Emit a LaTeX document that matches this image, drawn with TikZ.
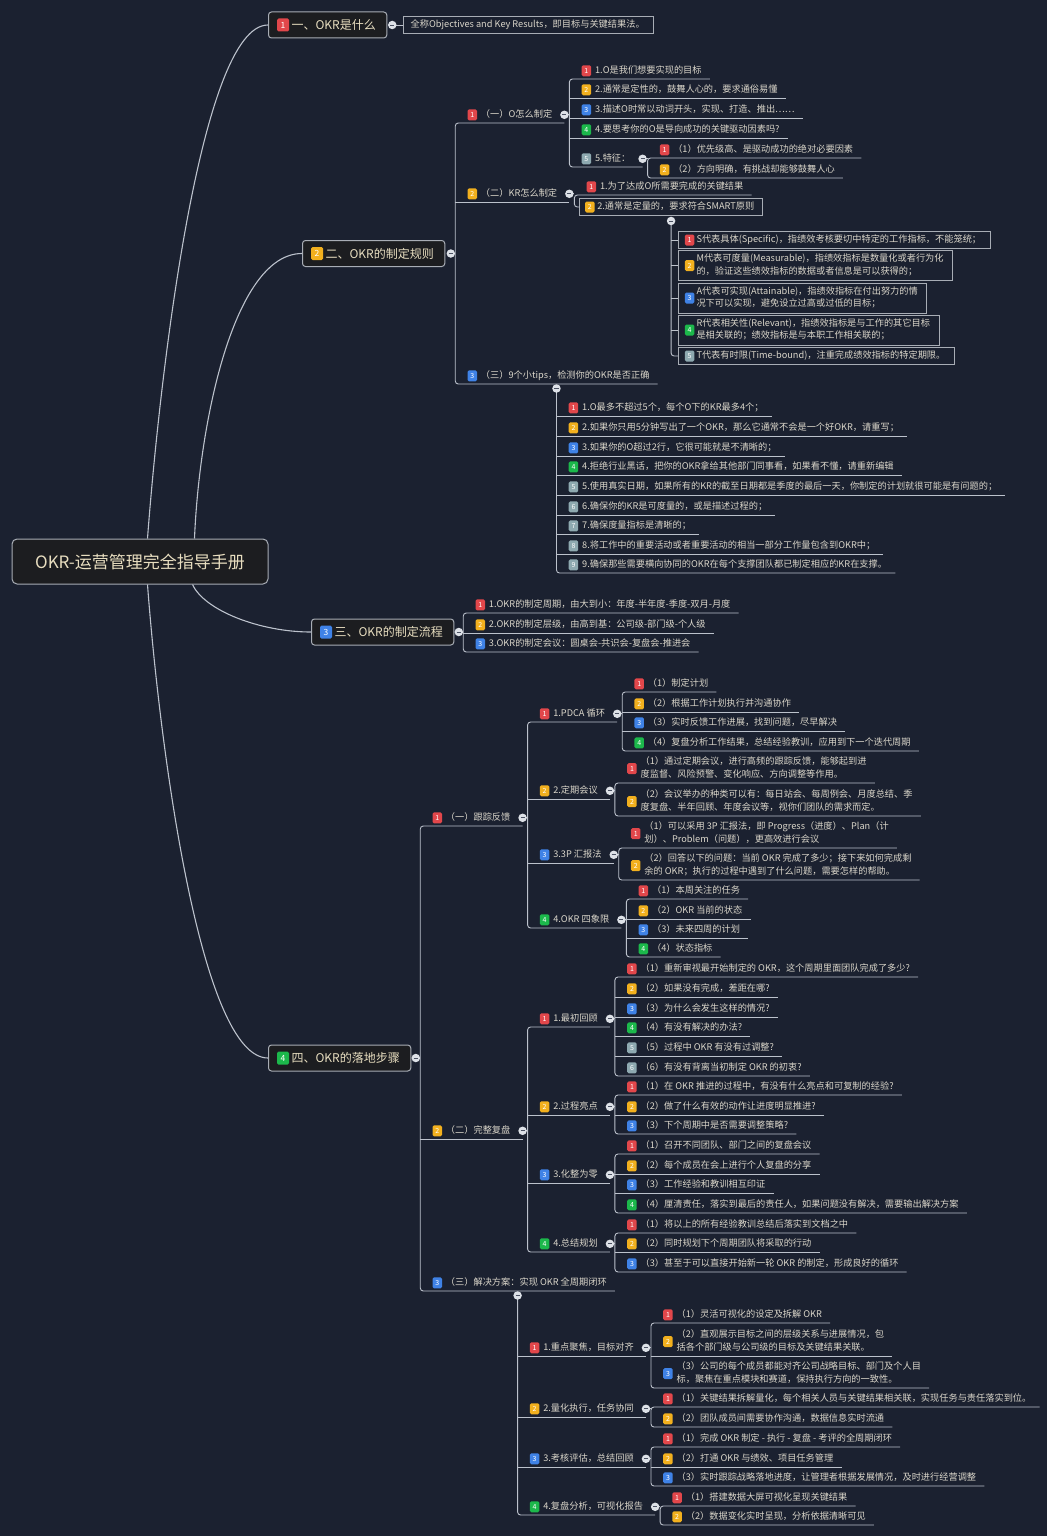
\documentclass[tikz,border=0pt]{standalone}
\usepackage{fontspec}
\newfontfamily\cjk{Noto Sans CJK SC}

\definecolor{bg}{HTML}{1B2130}
\definecolor{ln}{HTML}{BCC2CC}
\definecolor{txt}{HTML}{DAD6CA}
\definecolor{mtxt}{HTML}{E8DEC0}
\definecolor{boxfill}{HTML}{1C1D20}
\definecolor{boxdraw}{HTML}{A8ADB5}
\definecolor{cR}{HTML}{E2474B}
\definecolor{cO}{HTML}{F2B01E}
\definecolor{cB}{HTML}{3F82E6}
\definecolor{cG}{HTML}{1CB84B}
\definecolor{cS}{HTML}{8EA9B0}
\definecolor{btn}{HTML}{DDE1E7}
\definecolor{btnm}{HTML}{4A5162}

\tikzset{
  conn/.style={draw=ln, line width=0.9pt},
  curve/.style={draw=ln, line width=1.1pt},
  lf/.style={anchor=south west, inner xsep=0pt, inner ysep=3.5pt, text height=7pt, text depth=2pt,
    font=\cjk\fontsize{9.2}{12.5}\selectfont, text=txt},
  lf2/.style={anchor=south west, inner xsep=0pt, inner ysep=1.75pt,
    font=\cjk\fontsize{9.2}{12.5}\selectfont, text=txt},
  bx/.style={anchor=west, draw=boxdraw, fill=bg, line width=0.9pt, inner xsep=0pt, inner ysep=4pt,
    text height=7pt, text depth=2pt, font=\cjk\fontsize{9.2}{12.5}\selectfont, text=txt},
  bx2/.style={anchor=west, draw=boxdraw, fill=bg, line width=0.9pt, inner xsep=0pt, inner ysep=2.5pt,
    font=\cjk\fontsize{9.2}{12.5}\selectfont, text=txt},
  bdg/.style={rectangle, rounded corners=1.5pt, minimum width=9.5pt, minimum height=11pt, inner sep=0pt,
    text=white, font=\cjk\fontsize{7}{7}\selectfont},
  mbox/.style={anchor=west, rectangle, rounded corners=3pt, draw=boxdraw, fill=boxfill, line width=1pt,
    inner xsep=0pt, minimum height=26pt, font=\cjk\fontsize{12}{14}\selectfont, text=mtxt},
  mbdg/.style={bdg, minimum width=12pt, minimum height=13pt, font=\cjk\fontsize{8.5}{8.5}\selectfont},
  rootbox/.style={rectangle, rounded corners=5pt, draw=boxdraw, fill=boxfill, line width=1pt,
    minimum width=256pt, minimum height=45pt, font=\cjk\fontsize{17}{20}\selectfont, text=mtxt},
  cbtn/.style={circle, fill=btn, minimum size=8.5pt, inner sep=0pt,
    path picture={\draw[btnm, line width=0.9pt]
      ([xshift=2.2pt]path picture bounding box.west) -- ([xshift=-2.2pt]path picture bounding box.east);}},
}

% leaf item: name, position, badge colour, badge number, text
\newcommand\lfnode[5]{%
  \node[lf] (#1) at (#2) {\hspace*{25.5pt}#5\hspace*{8pt}};
  \node[bdg, fill=#3] (#1b) at ([xshift=17pt]#1.west) {#4};}
% two-line leaf item
\newcommand\lfii[6]{%
  \node[lf2] (#1) at (#2) {\hspace*{25.5pt}\begin{tabular}{@{}l@{}}#5\\#6\end{tabular}\hspace*{8pt}};
  \node[bdg, fill=#3] (#1b) at ([xshift=17pt]#1.west) {#4};}
% item with children to its right: circle at its east end, spine just after it
\newcommand\tpnode[5]{%
  \node[lf] (#1) at (#2) {\hspace*{25.5pt}#5\hspace*{12pt}};
  \node[bdg, fill=#3] (#1b) at ([xshift=17pt]#1.west) {#4};
  \coordinate (#1C) at (#1.east);
  \coordinate (#1S) at ([xshift=5pt]#1.east);}
% connectors
\newcommand\fan[2]{\draw[conn, rounded corners=3pt] (#1.south east) -- (#1.south west) -- (#2.south west) -- (#2.south east);}
\newcommand\undl[1]{\draw[conn] (#1.south west) -- (#1.south east);}
\newcommand\tie[2]{\draw[conn] (#1C) -- (#1C -| #2.south west);}

\begin{document}
\begin{tikzpicture}[x=1pt, y=-1pt]
\fill[bg] (0,0) rectangle (1047,1536);
\useasboundingbox (0,0) rectangle (1047,1536);

% ---------- root and main topics ----------
\node[rootbox] (root) at (140,561.5) {OKR-运营管理完全指导手册};

\node[mbox] (m1) at (268,25) {\hspace*{23pt}一、OKR是什么\hspace*{11pt}};
\node[mbdg, fill=cR] (m1b) at ([xshift=15pt]m1.west) {1};
\node[mbox] (m2) at (302,253.5) {\hspace*{23pt}二、OKR的制定规则\hspace*{11pt}};
\node[mbdg, fill=cO] (m2b) at ([xshift=15pt]m2.west) {2};
\node[mbox] (m3) at (311,632) {\hspace*{23pt}三、OKR的制定流程\hspace*{11pt}};
\node[mbdg, fill=cB] (m3b) at ([xshift=15pt]m3.west) {3};
\node[mbox] (m4) at (268,1058) {\hspace*{23pt}四、OKR的落地步骤\hspace*{11pt}};
\node[mbdg, fill=cG] (m4b) at ([xshift=15pt]m4.west) {4};

\coordinate (m1C) at ([xshift=5pt]m1.east);
\coordinate (m2C) at ([xshift=5.5pt]m2.east);
\coordinate (m2S) at ([xshift=10pt]m2.east);
\coordinate (m3C) at ([xshift=4.5pt]m3.east);
\coordinate (m3S) at ([xshift=9pt]m3.east);
\coordinate (m4C) at ([xshift=4.5pt]m4.east);
\coordinate (m4S) at ([xshift=9pt]m4.east);

\coordinate (ra) at ([xshift=136pt]root.north west);
\coordinate (rb) at ([xshift=183pt]root.north west);
\coordinate (rc) at ([xshift=181pt]root.south west);
\coordinate (rd) at ([xshift=136pt]root.south west);
\draw[curve] (ra) .. controls +(12,-160) and +(-68,0) .. (m1.west);
\draw[curve] (rb) .. controls +(5,-120) and +(-67,0) .. (m2.west);
\draw[curve] (rc) .. controls +(12,26) and +(-51,0) .. (m3.west);
\draw[curve] (rd) .. controls +(12,160) and +(-68,0) .. (m4.west);

% ---------- 一 ----------
\node[bx] (m1d) at ([xshift=16pt]m1.east) {\hspace*{7pt}全称Objectives and Key Results，即目标与关键结果法。\hspace*{9pt}};

% ---------- 二 ----------
\tpnode{o}{m2S |- 0,123}{cR}{1}{（一）O怎么制定}
\lfnode{o1}{oS |- 0,79}{cR}{1}{1.O是我们想要实现的目标}
\lfnode{o2}{oS |- 0,98}{cO}{2}{2.通常是定性的，鼓舞人心的，要求通俗易懂}
\lfnode{o3}{oS |- 0,118}{cB}{3}{3.描述O时常以动词开头，实现、打造、推出……}
\lfnode{o4}{oS |- 0,138}{cG}{4}{4.要思考你的O是导向成功的关键驱动因素吗?}
\tpnode{o5}{oS |- 0,167}{cS}{5}{5.特征：}
\lfnode{o51}{o5S |- 0,158}{cR}{1}{（1）优先级高、是驱动成功的绝对必要因素}
\lfnode{o52}{o5S |- 0,178}{cO}{2}{（2）方向明确，有挑战却能够鼓舞人心}

\tpnode{kr}{m2S |- 0,202}{cO}{2}{（二）KR怎么制定}
\lfnode{kr1}{krS |- 0,195}{cR}{1}{1.为了达成O所需要完成的关键结果}
\node[bx] (kr2) at ([xshift=5pt]krS |- 0,207) {\hspace*{17.5pt}2.通常是定量的，要求符合SMART原则\hspace*{8pt}};
\node[bdg, fill=cO] (kr2b) at ([xshift=10.5pt]kr2.west) {2};
\coordinate (kr2C) at ([yshift=-5pt]kr2.south);

\node[bx] (sm1) at ([xshift=7pt]kr2C |- 0,240) {\hspace*{18pt}S代表具体(Specific)，指绩效考核要切中特定的工作指标，不能笼统；\hspace*{9pt}};
\node[bdg, fill=cR] (sm1b) at ([xshift=11.5pt]sm1.west) {1};
\node[bx2] (sm2) at ([xshift=7pt]kr2C |- 0,265.5) {\hspace*{18pt}\begin{tabular}{@{}l@{}}M代表可度量(Measurable)，指绩效指标是数量化或者行为化\\的，验证这些绩效指标的数据或者信息是可以获得的；\end{tabular}\hspace*{9pt}};
\node[bdg, fill=cO] (sm2b) at ([xshift=11.5pt]sm2.west) {2};
\node[bx2] (sm3) at ([xshift=7pt]kr2C |- 0,298) {\hspace*{18pt}\begin{tabular}{@{}l@{}}A代表可实现(Attainable)，指绩效指标在付出努力的情\\况下可以实现，避免设立过高或过低的目标；\end{tabular}\hspace*{9pt}};
\node[bdg, fill=cB] (sm3b) at ([xshift=11.5pt]sm3.west) {3};
\node[bx2] (sm4) at ([xshift=7pt]kr2C |- 0,330) {\hspace*{18pt}\begin{tabular}{@{}l@{}}R代表相关性(Relevant)，指绩效指标是与工作的其它目标\\是相关联的；绩效指标是与本职工作相关联的；\end{tabular}\hspace*{9pt}};
\node[bdg, fill=cG] (sm4b) at ([xshift=11.5pt]sm4.west) {4};
\node[bx] (sm5) at ([xshift=7pt]kr2C |- 0,356) {\hspace*{18pt}T代表有时限(Time-bound)，注重完成绩效指标的特定期限。\hspace*{9pt}};
\node[bdg, fill=cS] (sm5b) at ([xshift=11.5pt]sm5.west) {5};

\lfnode{tips}{m2S |- 0,384}{cB}{3}{（三）9个小tips，检测你的OKR是否正确}
\coordinate (tipsC) at ([yshift=-4.5pt]tips.south);
\lfnode{t1}{tipsC |- 0,416}{cR}{1}{1.O最多不超过5个，每个O下的KR最多4个；}
\lfnode{t2}{tipsC |- 0,436}{cO}{2}{2.如果你只用5分钟写出了一个OKR，那么它通常不会是一个好OKR，请重写；}
\lfnode{t3}{tipsC |- 0,456}{cB}{3}{3.如果你的O超过2行，它很可能就是不清晰的；}
\lfnode{t4}{tipsC |- 0,475}{cG}{4}{4.拒绝行业黑话，把你的OKR拿给其他部门同事看，如果看不懂，请重新编辑}
\lfnode{t5}{tipsC |- 0,495}{cS}{5}{5.使用真实日期，如果所有的KR的截至日期都是季度的最后一天，你制定的计划就很可能是有问题的；}
\lfnode{t6}{tipsC |- 0,515}{cS}{6}{6.确保你的KR是可度量的，或是描述过程的；}
\lfnode{t7}{tipsC |- 0,534}{cS}{7}{7.确保度量指标是清晰的；}
\lfnode{t8}{tipsC |- 0,554}{cS}{8}{8.将工作中的重要活动或者重要活动的相当一部分工作量包含到OKR中；}
\lfnode{t9}{tipsC |- 0,573}{cS}{9}{9.确保那些需要横向协同的OKR在每个支撑团队都已制定相应的KR在支撑。}

% ---------- 三 ----------
\lfnode{p1}{m3S |- 0,613}{cR}{1}{1.OKR的制定周期，由大到小：年度-半年度-季度-双月-月度}
\lfnode{p2}{m3S |- 0,633}{cO}{2}{2.OKR的制定层级，由高到基：公司级-部门级-个人级}
\lfnode{p3}{m3S |- 0,652}{cB}{3}{3.OKR的制定会议：圆桌会-共识会-复盘会-推进会}

% ---------- 四 ----------
\tpnode{f}{m4S |- 0,826}{cR}{1}{（一）跟踪反馈}
\tpnode{f1}{fS |- 0,722}{cR}{1}{1.PDCA 循环}
\lfnode{f11}{f1S |- 0,692}{cR}{1}{（1）制定计划}
\lfnode{f12}{f1S |- 0,712}{cO}{2}{（2）根据工作计划执行并沟通协作}
\lfnode{f13}{f1S |- 0,731}{cB}{3}{（3）实时反馈工作进展，找到问题，尽早解决}
\lfnode{f14}{f1S |- 0,751}{cG}{4}{（4）复盘分析工作结果，总结经验教训，应用到下一个迭代周期}
\tpnode{f2}{fS |- 0,799}{cO}{2}{2.定期会议}
\lfii{f21}{f2S |- 0,783}{cR}{1}{（1）通过定期会议，进行高频的跟踪反馈，能够起到进}{度监督、风险预警、变化响应、方向调整等作用。}
\lfii{f22}{f2S |- 0,816}{cO}{2}{（2）会议举办的种类可以有：每日站会、每周例会、月度总结、季}{度复盘、半年回顾、年度会议等，视你们团队的需求而定。}
\tpnode{f3}{fS |- 0,863}{cB}{3}{3.3P 汇报法}
\lfii{f31}{f3S |- 0,848}{cR}{1}{（1）可以采用 3P 汇报法，即 Progress（进度）、Plan（计}{划）、Problem（问题），更高效进行会议}
\lfii{f32}{f3S |- 0,880}{cO}{2}{（2）回答以下的问题：当前 OKR 完成了多少；接下来如何完成剩}{余的 OKR；执行的过程中遇到了什么问题，需要怎样的帮助。}
\tpnode{f4}{fS |- 0,928}{cG}{4}{4.OKR 四象限}
\lfnode{f41}{f4S |- 0,899}{cR}{1}{（1）本周关注的任务}
\lfnode{f42}{f4S |- 0,919}{cO}{2}{（2）OKR 当前的状态}
\lfnode{f43}{f4S |- 0,938}{cB}{3}{（3）未来四周的计划}
\lfnode{f44}{f4S |- 0,957}{cG}{4}{（4）状态指标}

\tpnode{r}{m4S |- 0,1139}{cO}{2}{（二）完整复盘}
\tpnode{r1}{rS |- 0,1027}{cR}{1}{1.最初回顾}
\lfnode{r11}{r1S |- 0,977}{cR}{1}{（1）重新审视最开始制定的 OKR，这个周期里面团队完成了多少?}
\lfnode{r12}{r1S |- 0,997}{cO}{2}{（2）如果没有完成，差距在哪?}
\lfnode{r13}{r1S |- 0,1017}{cB}{3}{（3）为什么会发生这样的情况?}
\lfnode{r14}{r1S |- 0,1036}{cG}{4}{（4）有没有解决的办法?}
\lfnode{r15}{r1S |- 0,1056}{cS}{5}{（5）过程中 OKR 有没有过调整?}
\lfnode{r16}{r1S |- 0,1076}{cS}{6}{（6）有没有背离当初制定 OKR 的初衷?}
\tpnode{r2}{rS |- 0,1115}{cO}{2}{2.过程亮点}
\lfnode{r21}{r2S |- 0,1095}{cR}{1}{（1）在 OKR 推进的过程中，有没有什么亮点和可复制的经验?}
\lfnode{r22}{r2S |- 0,1115}{cO}{2}{（2）做了什么有效的动作让进度明显推进?}
\lfnode{r23}{r2S |- 0,1134}{cB}{3}{（3）下个周期中是否需要调整策略?}
\tpnode{r3}{rS |- 0,1183}{cB}{3}{3.化整为零}
\lfnode{r31}{r3S |- 0,1154}{cR}{1}{（1）召开不同团队、部门之间的复盘会议}
\lfnode{r32}{r3S |- 0,1174}{cO}{2}{（2）每个成员在会上进行个人复盘的分享}
\lfnode{r33}{r3S |- 0,1193}{cB}{3}{（3）工作经验和教训相互印证}
\lfnode{r34}{r3S |- 0,1213}{cG}{4}{（4）厘清责任，落实到最后的责任人，如果问题没有解决，需要输出解决方案}
\tpnode{r4}{rS |- 0,1252}{cG}{4}{4.总结规划}
\lfnode{r41}{r4S |- 0,1233}{cR}{1}{（1）将以上的所有经验教训总结后落实到文档之中}
\lfnode{r42}{r4S |- 0,1252}{cO}{2}{（2）同时规划下个周期团队将采取的行动}
\lfnode{r43}{r4S |- 0,1272}{cB}{3}{（3）甚至于可以直接开始新一轮 OKR 的制定，形成良好的循环}

\lfnode{s}{m4S |- 0,1291}{cB}{3}{（三）解决方案：实现 OKR 全周期闭环}
\coordinate (sC) at ([yshift=-4.5pt]s.south);
\tpnode{s1}{sC |- 0,1356}{cR}{1}{1.重点聚焦，目标对齐}
\lfnode{s11}{s1S |- 0,1323}{cR}{1}{（1）灵活可视化的设定及拆解 OKR}
\lfii{s12}{s1S |- 0,1356}{cO}{2}{（2）直观展示目标之间的层级关系与进展情况，包}{括各个部门级与公司级的目标及关键结果关联。}
\lfii{s13}{s1S |- 0,1388}{cB}{3}{（3）公司的每个成员都能对齐公司战略目标、部门及个人目}{标，聚焦在重点模块和赛道，保持执行方向的一致性。}
\tpnode{s2}{sC |- 0,1417}{cO}{2}{2.量化执行，任务协同}
\lfnode{s21}{s2S |- 0,1407}{cR}{1}{（1）关键结果拆解量化，每个相关人员与关键结果相关联，实现任务与责任落实到位。}
\lfnode{s22}{s2S |- 0,1427}{cO}{2}{（2）团队成员间需要协作沟通，数据信息实时流通}
\tpnode{s3}{sC |- 0,1467}{cB}{3}{3.考核评估，总结回顾}
\lfnode{s31}{s3S |- 0,1447}{cR}{1}{（1）完成 OKR 制定 - 执行 - 复盘 - 考评的全周期闭环}
\lfnode{s32}{s3S |- 0,1467}{cO}{2}{（2）打通 OKR 与绩效、项目任务管理}
\lfnode{s33}{s3S |- 0,1486}{cB}{3}{（3）实时跟踪战略落地进度，让管理者根据发展情况，及时进行经营调整}
\tpnode{s4}{sC |- 0,1515}{cG}{4}{4.复盘分析，可视化报告}
\lfnode{s41}{s4S |- 0,1506}{cR}{1}{（1）搭建数据大屏可视化呈现关键结果}
\lfnode{s42}{s4S |- 0,1525}{cO}{2}{（2）数据变化实时呈现，分析依据清晰可见}

% ---------- connectors ----------
\draw[conn] (m1C) -- (m1d.west);

\draw[conn] (m2C) -- (m2C -| o.south west);
\fan{o}{tips} \undl{kr}
\tie{o}{o1} \fan{o1}{o5} \undl{o2} \undl{o3} \undl{o4}
\tie{o5}{o51} \fan{o51}{o52}
\tie{kr}{kr1}
\draw[conn, rounded corners=3pt] (kr1.south east) -- (kr1.south west) |- (kr2.west);
\draw[conn, rounded corners=3pt] (kr2C) |- (sm5.west);
\foreach \k in {sm1,sm2,sm3,sm4} {\draw[conn] (\k.west -| kr2C) -- (\k.west);}
\draw[conn, rounded corners=3pt] (tipsC) |- (t9.south east);
\foreach \k in {t1,t2,t3,t4,t5,t6,t7,t8} {\undl{\k}}

\draw[conn] (m3C) -- (m3C -| p1.south west);
\fan{p1}{p3} \undl{p2}

\draw[conn] (m4C) -- (m4C -| f.south west);
\fan{f}{s} \undl{r}
\tie{f}{f1} \fan{f1}{f4} \undl{f2} \undl{f3}
\tie{f1}{f11} \fan{f11}{f14} \undl{f12} \undl{f13}
\tie{f2}{f21} \fan{f21}{f22}
\tie{f3}{f31} \fan{f31}{f32}
\tie{f4}{f41} \fan{f41}{f44} \undl{f42} \undl{f43}
\tie{r}{r1} \fan{r1}{r4} \undl{r2} \undl{r3}
\tie{r1}{r11} \fan{r11}{r16} \undl{r12} \undl{r13} \undl{r14} \undl{r15}
\tie{r2}{r21} \fan{r21}{r23} \undl{r22}
\tie{r3}{r31} \fan{r31}{r34} \undl{r32} \undl{r33}
\tie{r4}{r41} \fan{r41}{r43} \undl{r42}
\draw[conn, rounded corners=3pt] (sC) |- (s4.south east);
\undl{s1} \undl{s2} \undl{s3}
\tie{s1}{s11} \fan{s11}{s13} \undl{s12}
\tie{s2}{s21} \fan{s21}{s22}
\tie{s3}{s31} \fan{s31}{s33} \undl{s32}
\tie{s4}{s41} \fan{s41}{s42}

% ---------- collapse buttons ----------
\foreach \k in {m1,m2,m3,m4,o,o5,kr,kr2,tips,f,f1,f2,f3,f4,r,r1,r2,r3,r4,s,s1,s2,s3,s4}
  {\node[cbtn] (\k B) at (\k C) {};}
\end{tikzpicture}
\end{document}
